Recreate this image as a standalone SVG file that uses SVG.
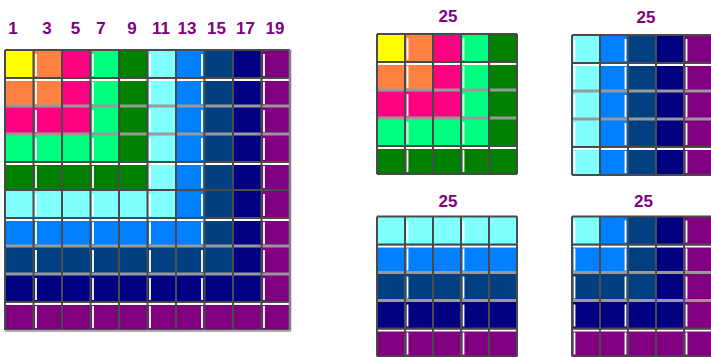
<svg xmlns="http://www.w3.org/2000/svg" width="711" height="357" viewBox="0 0 711 357">
<style>
.lbl{font-family:"Liberation Sans",Arial,sans-serif;font-weight:bold;font-size:17px;fill:#800080;text-anchor:middle}
.dk{fill:none;stroke:#4a4a4a;stroke-width:2}
.lt{fill:none;stroke:#999;stroke-width:3}
.wv{fill:none;stroke:#fff;stroke-width:1.8;stroke-dasharray:22 6;stroke-dashoffset:-4}
.wh{fill:none;stroke:#fff;stroke-width:1.8}
.c0{fill:#FFFF00}.c1{fill:#FF8040}.c2{fill:#FF0080}.c3{fill:#00FF80}.c4{fill:#008000}
.c5{fill:#80FFFF}.c6{fill:#0080FF}.c7{fill:#004080}.c8{fill:#000080}.c9{fill:#800080}
</style>
<rect width="711" height="357" fill="#fff"/>

<g id="labels">
<text class="lbl" x="13" y="34">1</text>
<text class="lbl" x="47" y="34">3</text>
<text class="lbl" x="75.5" y="34">5</text>
<text class="lbl" x="101" y="34">7</text>
<text class="lbl" x="132" y="34">9</text>
<text class="lbl" x="161" y="34">11</text>
<text class="lbl" x="187" y="34">13</text>
<text class="lbl" x="216.5" y="34">15</text>
<text class="lbl" x="245.5" y="34">17</text>
<text class="lbl" x="275" y="34">19</text>
<text class="lbl" x="448" y="22">25</text>
<text class="lbl" x="646" y="23">25</text>
<text class="lbl" x="448" y="206.5">25</text>
<text class="lbl" x="643.5" y="206.5">25</text>
</g>

<g id="main-grid" transform="translate(5,50)">
<rect class="c9" width="285" height="280"/>
<rect class="c8" width="256.5" height="252"/>
<rect class="c7" width="228" height="224"/>
<rect class="c6" width="199.5" height="196"/>
<rect class="c5" width="171" height="168"/>
<rect class="c4" width="142.5" height="140"/>
<rect class="c3" width="114" height="112"/>
<rect class="c2" width="85.5" height="84"/>
<rect class="c1" width="57" height="56"/>
<rect class="c0" width="28.5" height="28"/>
<path class="wv" d="M31 0V280M88 0V280M145 0V280M197 0V280M259 0V280"/>
<path class="wh" d="M0 30H285M0 114H285M0 170H285M0 254H285"/>
<path class="lt" d="M0 56H285M0 84H285M0 196H285M0 224H285"/>
<path class="dk" d="M0 0H285M0 28H285M0 112H285M0 140H285M0 168H285M0 252H285M0 280H285"/>
<path class="dk" d="M0 0V280M28.5 0V280M57 0V280M85.5 0V280M114 0V280M142.5 0V280M171 0V280M199.5 0V280M228 0V280M256.5 0V280"/>
<path d="M285 0V281" stroke="#808080" stroke-width="2.5"/>
<path d="M0 281H286" stroke="#aaa" stroke-width="2"/>
</g>

<g id="grid-a" transform="translate(377,34)">
<rect class="c4" width="140" height="140"/>
<rect class="c3" width="112" height="112"/>
<rect class="c2" width="84" height="84"/>
<rect class="c1" width="56" height="56"/>
<rect class="c0" width="28" height="28"/>
<path class="wv" d="M30.5 0V140M86.5 0V140"/>
<path class="wh" d="M0 30H140M0 114H140"/>
<path class="lt" d="M0 56H140M0 84H140"/>
<path class="dk" d="M0 0H140M0 28H140M0 112H140M0 140H140M0 0V140M28 0V140M56 0V140M84 0V140M112 0V140M140 0V140"/>
</g>

<g id="grid-b" transform="translate(572,35)">
<rect class="c5" width="28" height="140"/>
<rect class="c6" x="28" width="28" height="140"/>
<rect class="c7" x="56" width="28" height="140"/>
<rect class="c8" x="84" width="28" height="140"/>
<rect class="c9" x="112" width="28" height="140"/>
<path class="wv" d="M2.5 0V140M53.5 0V140M114.5 0V140"/>
<path class="wh" d="M0 30H140M0 114H140"/>
<path class="lt" d="M0 56H140M0 84H140"/>
<path class="dk" d="M0 0H140M0 28H140M0 112H140M0 140H140M0 0V140M28 0V140M56 0V140M84 0V140M112 0V140M140 0V140"/>
</g>

<g id="grid-c" transform="translate(377,216.5)">
<rect class="c5" width="140" height="28"/>
<rect class="c6" y="28" width="140" height="28"/>
<rect class="c7" y="56" width="140" height="28"/>
<rect class="c8" y="84" width="140" height="28"/>
<rect class="c9" y="112" width="140" height="28"/>
<path class="wv" d="M30.5 0V140M86.5 0V140"/>
<path class="wh" d="M0 30H140M0 114H140"/>
<path class="lt" d="M0 56H140M0 84H140"/>
<path class="dk" d="M0 0H140M0 28H140M0 112H140M0 140H140M0 0V140M28 0V140M56 0V140M84 0V140M112 0V140M140 0V140"/>
</g>

<g id="grid-d" transform="translate(572,216.5)">
<rect class="c9" width="140" height="140"/>
<rect class="c8" width="112" height="112"/>
<rect class="c7" width="84" height="84"/>
<rect class="c6" width="56" height="56"/>
<rect class="c5" width="28" height="28"/>
<path class="wv" d="M2.5 0V140M53.5 0V140M114.5 0V140"/>
<path class="wh" d="M0 30H140M0 114H140"/>
<path class="lt" d="M0 56H140M0 84H140"/>
<path class="dk" d="M0 0H140M0 28H140M0 112H140M0 140H140M0 0V140M28 0V140M56 0V140M84 0V140M112 0V140M140 0V140"/>
</g>
</svg>
